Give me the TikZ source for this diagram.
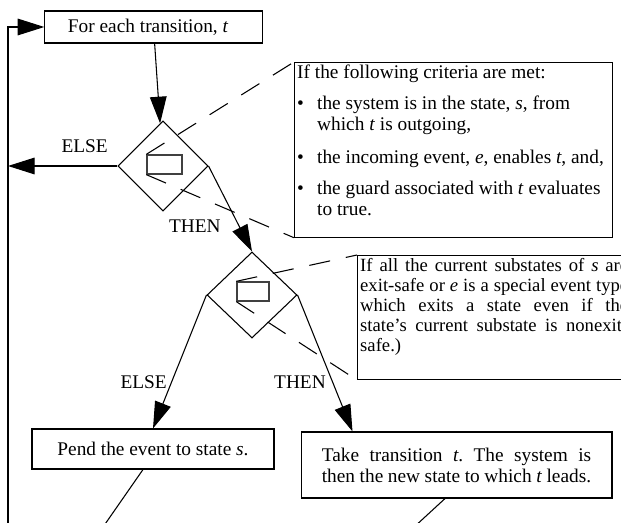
\documentclass[tikz,border=0pt]{standalone}
\usepackage{fontspec}
\setmainfont{Liberation Serif}
\usepackage{tikz}
\usetikzlibrary{shapes.geometric, arrows.meta, positioning}

\newcommand{\bulletmark}{\makebox[15pt][l]{\textbullet}}
\newcommand{\bulletgap}{\hspace*{15pt}}

\begin{document}
\frenchspacing
\begin{tikzpicture}[
        x=0.75pt, y=-0.75pt,
        font=\fontsize{14.5pt}{15.75pt}\selectfont,
        process/.style={draw, rectangle, line width=0.8pt, inner sep=2pt, align=center},
        decision/.style={draw, diamond, line width=0.8pt, inner sep=0pt, minimum width=67.5pt},
        gate/.style={draw=black!75, rectangle, line width=1pt, inner sep=0pt},
        note/.style={draw, rectangle, line width=0.8pt, inner sep=2pt, anchor=north west},
        callout/.style={dash pattern=on 16pt off 12pt, line width=0.8pt},
        link/.style={line width=0.8pt},
        arrow/.style={-{Triangle[length=20pt, width=12.5pt]}, line width=0.8pt}
    ]
        \useasboundingbox (0,0) rectangle (621,523);

        \node (each) [process, minimum width=163pt, minimum height=24pt] at (153.5,27) {For each transition, \textit{t}\hspace*{8pt}};
        \node (d1) [decision, minimum height=67.5pt] at (163,166) {};
        \node (g1) [gate, minimum width=26.25pt, minimum height=14.25pt] at (164.5,164.5) {};
        \node (crit) [note] at (294,62) {\parbox[t][127pt][t]{234.5pt}{\raggedright
            If the following criteria are met:\\[7.5pt]
            \bulletmark the system is in the state, \textit{s}, from\\
            \bulletgap which \textit{t} is outgoing,\\[9pt]
            \bulletmark the incoming event, \textit{e}, enables \textit{t}, and,\\[7.5pt]
            \bulletmark the guard associated with \textit{t} evaluates\\
            \bulletgap to true.}};
        \node (d2) [decision, minimum height=64.5pt] at (252,295) {};
        \node (g2) [gate, minimum width=24pt, minimum height=14.25pt] at (253,291.5) {};
        \node (excl) [note] at (357,255) {\parbox[t][89pt][t]{201pt}{\fontsize{14pt}{15pt}\selectfont
            If all the current substates of \textit{s} are\linebreak
            exit-safe or \textit{e} is a special event type\linebreak
            which exits a state even if the\linebreak
            state's current substate is nonexit-\linebreak
            safe.)}};
        \node (pend) [process, minimum width=181.5pt, minimum height=30pt] at (153,449) {Pend the event to state \textit{s}.};
        \node (take) [process, text width=202pt, align=justify, inner xsep=15.6pt, minimum height=49.5pt] at (456.5,465) {Take transition \textit{t}. The system is\linebreak then the new state to which \textit{t} leads.};

        \coordinate (loopbot) at (8,540);
        \coordinate (pendout) at (94,540);
        \coordinate (takeout) at (400,540);

        \draw [arrow] (loopbot) |- (each.west);
        \draw [arrow] (each) -- (d1);
        \draw [arrow] (d1.west) -- node[pos=0.3, above=6pt] (else1) {ELSE} (d1.west -| loopbot);
        \draw [arrow] (d1.east) -- node[pos=0.7, left=10pt] (then1) {THEN} (d2.north);
        \draw [arrow] (d2.west) -- node[pos=0.65, left=0pt] (else2) {ELSE} (pend.north);
        \draw [arrow] (d2.east) -- node[pos=0.64, left=1.5pt] (then2) {THEN} ([xshift=39pt]take.north west);
        \draw [link] ([xshift=-7.5pt]pend.south) -- (pendout);
        \draw [link] ([xshift=-8.6pt]take.south) -- (takeout);

        \draw [callout] (g1.north west) -- (crit.north west);
        \draw [callout] (g1.south west) -- (crit.south west);
        \draw [callout] (g2.north west) -- (excl.north west);
        \draw [callout] (g2.south west) -- (excl.south west);
    \end{tikzpicture}
\end{document}
